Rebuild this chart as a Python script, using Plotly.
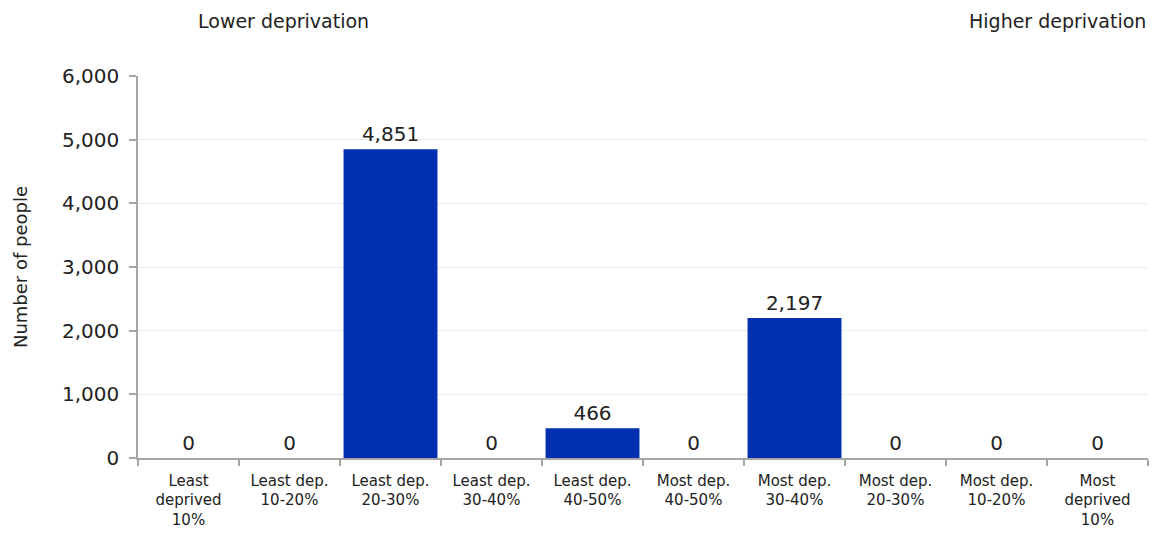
import plotly.graph_objects as go

# Deprivation deciles and number of people in each
categories = [
    "Least<br>deprived<br>10%",
    "Least dep.<br>10-20%",
    "Least dep.<br>20-30%",
    "Least dep.<br>30-40%",
    "Least dep.<br>40-50%",
    "Most dep.<br>40-50%",
    "Most dep.<br>30-40%",
    "Most dep.<br>20-30%",
    "Most dep.<br>10-20%",
    "Most<br>deprived<br>10%",
]
people = [0, 0, 4851, 0, 466, 0, 2197, 0, 0, 0]

y_ticks = [0, 1000, 2000, 3000, 4000, 5000, 6000]

FONT = "DejaVu Sans"
TEXT_COLOR = "#222222"
AXIS_COLOR = "#a6a6a6"

fig = go.Figure(
    go.Bar(
        x=categories,
        y=people,
        marker=dict(color="#0030B0", line=dict(width=0)),
        text=[f"{v:,}" for v in people],
        textposition="outside",
        textfont=dict(family=FONT, size=20, color=TEXT_COLOR),
        cliponaxis=False,
    )
)

fig.update_layout(
    width=1160,
    height=540,
    margin=dict(l=138, r=12, t=76, b=82),
    paper_bgcolor="white",
    plot_bgcolor="white",
    bargap=0.07,
    showlegend=False,
    font=dict(family=FONT, color=TEXT_COLOR),
    xaxis=dict(
        type="category",
        tickson="boundaries",
        ticks="outside",
        ticklen=6,
        tickcolor=AXIS_COLOR,
        tickwidth=1.5,
        showline=True,
        linecolor=AXIS_COLOR,
        linewidth=1.5,
        showgrid=False,
        tickfont=dict(family=FONT, size=15, color=TEXT_COLOR),
        tickangle=0,
        ticklabelstandoff=8,
    ),
    yaxis=dict(
        range=[0, 6000],
        tickvals=y_ticks,
        ticktext=[f"{v:,}" for v in y_ticks],
        ticks="outside",
        ticklen=7,
        tickcolor=AXIS_COLOR,
        tickwidth=1.5,
        showline=True,
        linecolor=AXIS_COLOR,
        linewidth=1.5,
        showgrid=True,
        gridcolor="#ebebeb",
        gridwidth=1,
        zeroline=False,
        ticklabelstandoff=6,
        tickfont=dict(family=FONT, size=20, color=TEXT_COLOR),
        title=dict(
            text="Number of people",
            font=dict(family=FONT, size=18, color=TEXT_COLOR),
            standoff=30,
        ),
    ),
    annotations=[
        dict(
            text="Lower deprivation",
            xref="paper", yref="paper",
            x=145 / 1010, y=1.0, yshift=55,
            xanchor="center", yanchor="middle",
            showarrow=False,
            font=dict(family=FONT, size=19, color=TEXT_COLOR),
        ),
        dict(
            text="Higher deprivation",
            xref="paper", yref="paper",
            x=1.0, y=1.0, yshift=55,
            xanchor="right", yanchor="middle",
            showarrow=False,
            font=dict(family=FONT, size=19, color=TEXT_COLOR),
        ),
    ],
)

fig.write_html("out.html")
